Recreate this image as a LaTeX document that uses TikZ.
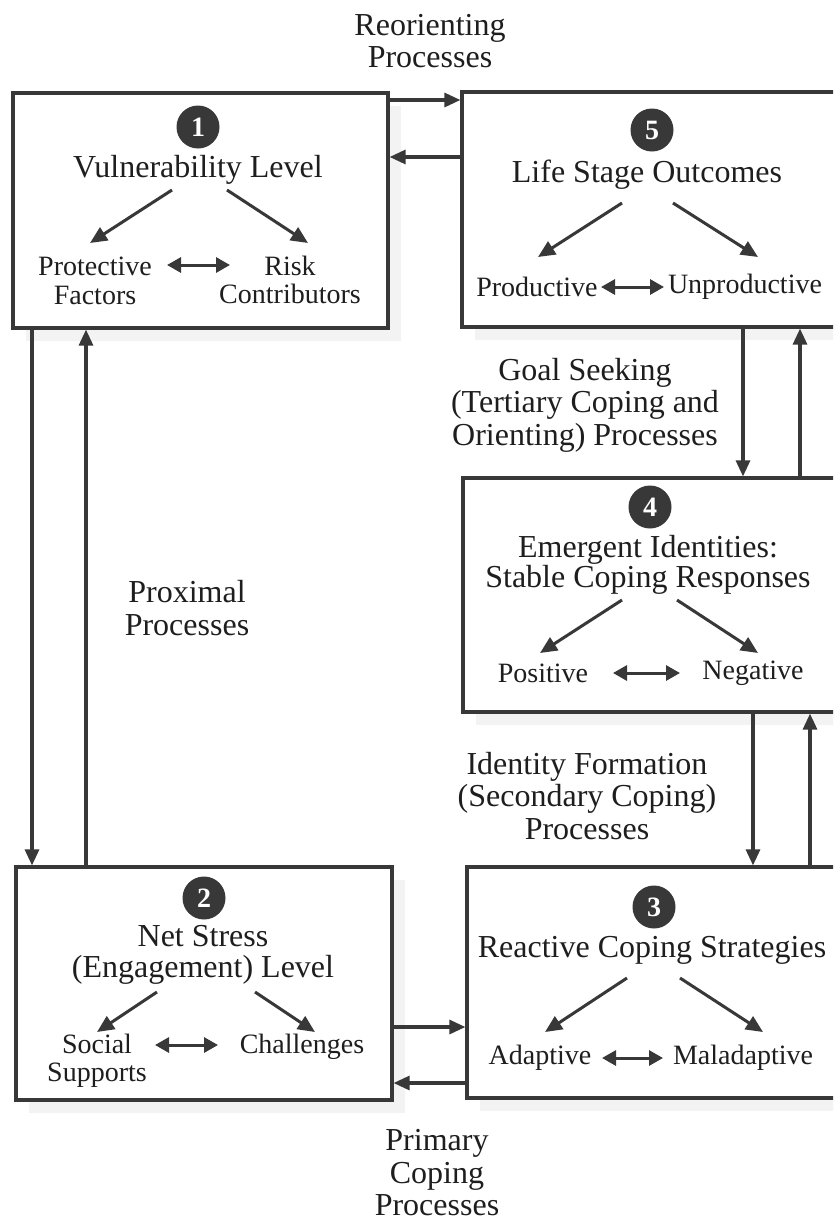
\documentclass[tikz,border=0pt]{standalone}
\usepackage{fontspec}
\setmainfont{Liberation Serif}
\usetikzlibrary{arrows.meta,calc,shadows}
\definecolor{ink}{HTML}{383838}
\definecolor{txt}{HTML}{1E1E1E}
\definecolor{shade}{HTML}{F3F3F3}
\begin{document}
\begin{tikzpicture}[x=1pt,y=-1pt,
  panel/.style={draw=ink, line width=3.2pt, fill=white, inner sep=0pt,
    drop shadow={shadow xshift=13pt, shadow yshift=-13pt, fill=shade, opacity=1}},
  badge/.style={circle, fill=ink, text=white, minimum size=43pt, inner sep=0pt,
    font=\fontsize{28}{28}\selectfont\bfseries},
  title/.style={text=txt, align=center, inner sep=0pt, font=\fontsize{32}{30.5}\selectfont},
  sub/.style={text=txt, align=center, inner sep=0pt, font=\fontsize{28}{28.5}\selectfont},
  lbl/.style={text=txt, align=center, inner sep=0pt, font=\fontsize{32}{32.5}\selectfont},
  conn/.style={draw=ink, line width=3.1pt, -{Triangle[length=16pt,width=14pt]}},
  split/.style={draw=ink, line width=3pt, -{Triangle[length=17pt,width=15pt]}},
  pair/.style={draw=ink, line width=3pt, {Triangle[length=14pt,width=15pt]}-{Triangle[length=14pt,width=15pt]}}
]
\clip (0,0) rectangle (833,1221);
\fill[white] (0,0) rectangle (833,1221);

% stage boxes
\node[panel, minimum width=375pt, minimum height=235pt] (b1) at (200.5,210.5) {};
\node[panel, minimum width=388pt, minimum height=235pt] (b5) at (656,209.5) {};
\node[panel, minimum width=387pt, minimum height=234pt] (b4) at (656.5,595) {};
\node[panel, minimum width=383pt, minimum height=231pt] (b3) at (658.5,982.5) {};
\node[panel, minimum width=376pt, minimum height=233pt] (b2) at (204,983.5) {};

% box 1
\node[badge] (c1) at (198,127) {1};
\node[title] (t1) at (198,170) {Vulnerability Level};
\node[sub] (s1a) at (95,281) {Protective\\Factors};
\node[sub] (s1b) at (290,280) {Risk\\Contributors};
\draw[split] ($(t1)+(-26,20)$) -- ($(s1a)+(-5,-38)$);
\draw[split] ($(t1)+(29,20)$) -- ($(s1b)+(18,-37)$);
\draw[pair] ($(s1a)+(72,-16)$) -- ($(s1b)+(-60,-15)$);

% box 5
\node[badge] (c5) at (652,130) {5};
\node[title] (t5) at (647,175) {Life Stage Outcomes};
\node[sub] (s5a) at (537,287) {Productive};
\node[sub] (s5b) at (745,287) {Unproductive};
\draw[split] ($(t5)+(-25,28)$) -- ($(s5a)+(1,-30)$);
\draw[split] ($(t5)+(26,28)$) -- ($(s5b)+(13,-30)$);
\draw[pair] ($(s5a)+(64,0)$) -- ($(s5b)+(-81,0)$);

% box 4
\node[badge] (c4) at (650,507) {4};
\node[title] (t4) at (648,565) {Emergent Identities:\\Stable Coping Responses};
\node[sub] (s4a) at (543,673) {Positive};
\node[sub] (s4b) at (753,673) {Negative};
\draw[split] ($(t4)+(-26,35)$) -- ($(s4a)+(-3,-20)$);
\draw[split] ($(t4)+(29,35)$) -- ($(s4b)+(5,-20)$);
\draw[pair] ($(s4a)+(70,0)$) -- ($(s4b)+(-73,0)$);

% box 3
\node[badge] (c3) at (654,907) {3};
\node[title] (t3) at (652,950) {Reactive Coping Strategies};
\node[sub] (s3a) at (540,1058) {Adaptive};
\node[sub] (s3b) at (743,1058) {Maladaptive};
\draw[split] ($(t3)+(-25,28)$) -- ($(s3a)+(5,-26)$);
\draw[split] ($(t3)+(28,28)$) -- ($(s3b)+(20,-26)$);
\draw[pair] ($(s3a)+(62,0)$) -- ($(s3b)+(-80,0)$);

% box 2
\node[badge] (c2) at (204,898) {2};
\node[title] (t2) at (203,955) {Net Stress\\(Engagement) Level};
\node[sub] (s2a) at (97,1061) {Social\\Supports};
\node[sub] (s2b) at (302,1047) {Challenges};
\draw[split] ($(t2)+(-46,37)$) -- ($(s2a)+(0,-29)$);
\draw[split] ($(t2)+(52,37)$) -- ($(s2b)+(13,-15)$);
\draw[pair] ($(s2a)+(58,-16)$) -- ($(s2b)+(-84,-2)$);

% lanes of the process connectors
\coordinate (ha) at (0,100);
\coordinate (hb) at (0,157);
\coordinate (va) at (32,0);
\coordinate (vb) at (86,0);
\coordinate (vc) at (743,0);
\coordinate (vd) at (800,0);
\coordinate (ve) at (753,0);
\coordinate (vf) at (810,0);
\coordinate (hc) at (0,1027);
\coordinate (hd) at (0,1083);

% process connectors
\draw[conn] (b1.east |- ha) -- (b5.west |- ha);
\draw[conn] (b5.west |- hb) -- (b1.east |- hb);
\draw[conn] (b1.south -| va) -- (b2.north -| va);
\draw[conn] (b2.north -| vb) -- (b1.south -| vb);
\draw[conn] (b5.south -| vc) -- (b4.north -| vc);
\draw[conn] (b4.north -| vd) -- (b5.south -| vd);
\draw[conn] (b4.south -| ve) -- (b3.north -| ve);
\draw[conn] (b3.north -| vf) -- (b4.south -| vf);
\draw[conn] (b2.east |- hc) -- (b3.west |- hc);
\draw[conn] (b3.west |- hd) -- (b2.east |- hd);

% process labels
\node[lbl] (l1) at (430,41) {Reorienting\\Processes};
\node[lbl] (l2) at (187,608) {Proximal\\Processes};
\node[lbl] (l3) at (585,405) {Goal Seeking\\(Tertiary Coping and\\Orienting) Processes};
\node[lbl] (l4) at (587,796) {Identity Formation\\(Secondary Coping)\\Processes};
\node[lbl] (l5) at (437,1173) {Primary\\Coping\\Processes};
\end{tikzpicture}
\end{document}
